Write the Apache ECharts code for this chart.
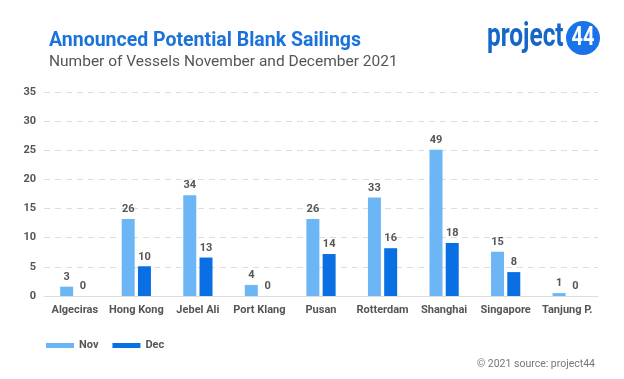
<!DOCTYPE html>
<html><head><meta charset="utf-8">
<script src="https://cdn.jsdelivr.net/npm/echarts@6/dist/echarts.min.js"></script>
<style>html,body{margin:0;padding:0;background:#fff}#c{width:624px;height:379px}</style>
</head><body><div id="c"></div>
<script>
const categories = ['Algeciras','Hong Kong','Jebel Ali','Port Klang','Pusan','Rotterdam','Shanghai','Singapore','Tanjung P.'];
// bar heights as drawn against the axis
const novHeights = [1.6, 13.2, 17.3, 1.9, 13.2, 16.9, 25.1, 7.6, 0.5];
const decHeights = [0, 5.1, 6.6, 0, 7.2, 8.2, 9.1, 4.1, 0];
// numbers printed on the bars
const novLabels = [3, 26, 34, 4, 26, 33, 49, 15, 1];
const decLabels = [0, 10, 13, 0, 14, 16, 18, 8, 0];
const yTicks = [0, 5, 10, 15, 20, 25, 30, 35];

const chart = echarts.init(document.getElementById('c'));
const labelStyle = {show: true, position: 'top', distance: 4, color: '#555', fontSize: 11, fontWeight: 'bold', fontFamily: 'Roboto'};
chart.setOption({
  animation: false,
  title: [
    {text: 'Announced Potential Blank Sailings', left: 44, top: 26,
     textStyle: {fontFamily: 'Roboto', fontSize: 19.5, fontWeight: 'bold', color: '#1b72d8'}},
    {text: 'Number of Vessels November and December 2021', left: 44, top: 49,
     textStyle: {fontFamily: 'Roboto', fontSize: 15.5, fontWeight: 'normal', color: '#555'}},
    {text: '© 2021 source: project44', right: 24, top: 354,
     textStyle: {fontFamily: 'Roboto', fontSize: 10.5, fontWeight: 'normal', color: '#777'}}
  ],
  graphic: [
    {type: 'text', x: 487, y: 38, scaleX: 0.74, style: {x: 0, y: 0, text: 'project', verticalAlign: 'middle', fontFamily: 'Roboto', fontSize: 33, fontWeight: 'bold', fill: '#1466c8'}},
    {type: 'circle', shape: {cx: 583, cy: 38, r: 17}, style: {fill: '#1a73e8'}},
    {type: 'text', x: 583, y: 39, scaleX: 0.8, style: {x: 0, y: 0, text: '44', align: 'center', verticalAlign: 'middle', fontFamily: 'Roboto', fontSize: 25, fontWeight: 'bold', fill: '#fff'}}
  ],
  legend: {
    left: 41, top: 335, itemWidth: 28, itemHeight: 5, itemGap: 14,
    icon: 'rect',
    textStyle: {fontFamily: 'Roboto', fontSize: 11, fontWeight: 'bold', color: '#555'},
    data: ['Nov', 'Dec']
  },
  grid: {left: 44, right: 26, top: 92, bottom: 83, containLabel: false},
  xAxis: {
    type: 'category', data: categories,
    axisLine: {lineStyle: {color: '#ddd'}}, axisTick: {show: false},
    axisLabel: {color: '#555', fontSize: 11, fontWeight: 'bold', fontFamily: 'Roboto', margin: 9, interval: 0}
  },
  yAxis: {
    type: 'value', min: 0, max: 35, interval: 5,
    axisLine: {show: false}, axisTick: {show: false},
    axisLabel: {color: '#555', fontSize: 11, fontWeight: 'bold', fontFamily: 'Roboto', margin: 8,
      formatter: v => yTicks.includes(v) ? String(v) : ''},
    splitLine: {lineStyle: {color: '#ddd', type: [6, 5]}}
  },
  series: [
    {name: 'Nov', type: 'bar', data: novHeights, barWidth: 13, barGap: '25%',
     itemStyle: {color: '#6db6f6'},
     label: Object.assign({}, labelStyle, {formatter: p => String(novLabels[p.dataIndex])})},
    {name: 'Dec', type: 'bar', data: decHeights, barWidth: 13,
     itemStyle: {color: '#0b6fe4'},
     label: Object.assign({}, labelStyle, {formatter: p => String(decLabels[p.dataIndex])})}
  ]
});
</script></body></html>
